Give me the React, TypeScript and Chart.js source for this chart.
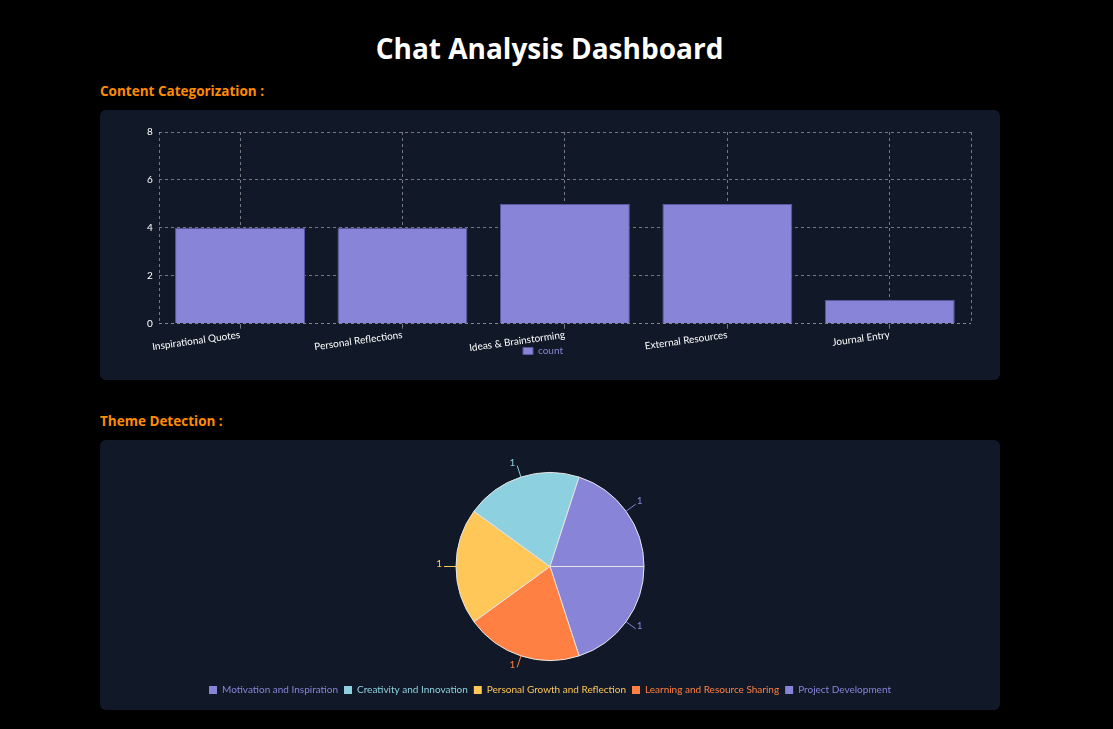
import React, { useEffect, useRef } from "react";
import { Chart, registerables } from "chart.js";

Chart.register(...registerables);

const categoryLabels = [
  "Inspirational Quotes",
  "Personal Reflections",
  "Ideas & Brainstorming",
  "External Resources",
  "Journal Entry",
];
const categoryCounts = [4, 4, 5, 5, 1];

const themeLabels = [
  "Motivation and Inspiration",
  "Creativity and Innovation",
  "Personal Growth and Reflection",
  "Learning and Resource Sharing",
  "Project Development",
];
const themeCounts = [1, 1, 1, 1, 1];
const themeColors = ["#8884d8", "#8dd1e1", "#ffc658", "#ff8042", "#8884d8"];

const FONT = "'Open Sans', 'Noto Sans', sans-serif";
const CHART_FONT = "Lato, 'Open Sans', sans-serif";
const CARD_BG = "#111827";
const GRID = "rgba(200,200,200,0.55)";
const X_SHRINK = 12;

const chartAreaBorder = {
  id: "chartAreaBorder",
  afterLayout(chart: any) {
    const x = chart.scales.x;
    if (x) {
      x.bottom += X_SHRINK;
      x.height += X_SHRINK;
    }
    if (chart.legend) {
      chart.legend.left -= 13;
      chart.legend.right -= 13;
    }
  },
  afterDraw(chart: any) {
    const { ctx, chartArea } = chart;
    ctx.save();
    ctx.strokeStyle = GRID;
    ctx.lineWidth = 1;
    ctx.setLineDash([3, 3]);
    ctx.beginPath();
    const l = Math.round(chartArea.left) + 0.5;
    const r = Math.round(chartArea.right) + 0.5;
    ctx.moveTo(l, chartArea.top);
    ctx.lineTo(l, chartArea.bottom);
    ctx.moveTo(r, chartArea.top);
    ctx.lineTo(r, chartArea.bottom);
    ctx.stroke();
    ctx.restore();
  },
};

const pieLabels = {
  id: "pieLabels",
  afterDatasetsDraw(chart: any) {
    const { ctx } = chart;
    const meta = chart.getDatasetMeta(0);
    const ds = chart.data.datasets[0];
    ctx.save();
    ctx.font = `10px ${CHART_FONT}`;
    ctx.textBaseline = "middle";
    meta.data.forEach((arc: any, i: number) => {
      const { x, y, startAngle, endAngle, outerRadius } = arc.getProps(
        ["x", "y", "startAngle", "endAngle", "outerRadius"],
        true
      );
      const mid = (startAngle + endAngle) / 2;
      const c = Math.cos(mid);
      const s = Math.sin(mid);
      const x1 = x + outerRadius * c;
      const y1 = y + outerRadius * s;
      const x2 = x + (outerRadius + 12) * c;
      const y2 = y + (outerRadius + 12) * s;
      const color = ds.backgroundColor[i];
      ctx.strokeStyle = color;
      ctx.lineWidth = 1;
      ctx.beginPath();
      ctx.moveTo(x1, y1);
      ctx.lineTo(x2, y2);
      ctx.stroke();
      ctx.fillStyle = color;
      ctx.textAlign = c >= 0 ? "left" : "right";
      ctx.fillText(String(ds.data[i]), x2 + (c >= 0 ? 1 : -2), y2 - 3);
    });
    ctx.restore();
  },
};

function BarChart() {
  const ref = useRef<HTMLCanvasElement>(null);
  useEffect(() => {
    if (!ref.current) return;
    const chart = new Chart(ref.current, {
      type: "bar",
      data: {
        labels: categoryLabels,
        datasets: [
          {
            label: "count",
            data: categoryCounts,
            backgroundColor: "#8884d8",
            borderColor: "#5a56a0",
            borderWidth: 1,
            barPercentage: 1,
            categoryPercentage: 0.8,
          },
        ],
      },
      options: {
        animation: false,
        responsive: false,
        maintainAspectRatio: false,
        layout: { padding: { left: 41, right: 29, top: 22, bottom: 14 } },
        plugins: {
          legend: {
            position: "bottom",
            labels: {
              color: "#8884d8",
              boxWidth: 10,
              boxHeight: 7,
              padding: 4,
              font: { family: CHART_FONT, size: 10 },
            },
          },
          tooltip: { enabled: false },
        },
        scales: {
          x: {
            afterFit(scale: any) {
              scale.height -= X_SHRINK;
            },
            grid: {
              offset: false,
              color: GRID,
              tickLength: 5,
              tickColor: GRID,
            },
            border: { display: false, dash: [3, 3] },
            ticks: {
              color: "#ffffff",
              minRotation: 8,
              maxRotation: 8,
              padding: 0,
              font: { family: CHART_FONT, size: 10 },
            },
          },
          y: {
            min: 0,
            max: 8,
            ticks: {
              stepSize: 2,
              color: "#ffffff",
              padding: 6,
              font: { family: CHART_FONT, size: 10 },
            },
            grid: {
              color: (ctx: any) => (ctx.tick && ctx.tick.value === 0 ? "rgba(150,150,150,0.9)" : GRID),
              drawTicks: false,
            },
            border: { display: false, dash: [3, 3] },
          },
        },
      } as any,
      plugins: [chartAreaBorder],
    });
    return () => chart.destroy();
  }, []);
  return <canvas ref={ref} width={900} height={270} style={{ display: "block" }} />;
}

function PieChart() {
  const ref = useRef<HTMLCanvasElement>(null);
  useEffect(() => {
    if (!ref.current) return;
    const order = [...themeLabels.keys()].reverse();
    const chart = new Chart(ref.current, {
      type: "pie",
      data: {
        labels: order.map((i) => themeLabels[i]),
        datasets: [
          {
            data: order.map((i) => themeCounts[i]),
            backgroundColor: order.map((i) => themeColors[i]),
            borderColor: "#e6e6e6",
            borderWidth: 1,
            radius: 94,
          } as any,
        ],
      },
      options: {
        animation: false,
        responsive: false,
        maintainAspectRatio: false,
        rotation: 90,
        layout: { padding: { top: 14, bottom: 5 } },
        plugins: {
          tooltip: { enabled: false },
          legend: {
            position: "bottom",
            reverse: true,
            labels: {
              boxWidth: 8,
              boxHeight: 8,
              padding: 6,
              font: { family: CHART_FONT, size: 10 },
              generateLabels(chart: any) {
                const ds = chart.data.datasets[0];
                return chart.data.labels.map((l: string, i: number) => ({
                  text: l,
                  fillStyle: ds.backgroundColor[i],
                  strokeStyle: ds.backgroundColor[i],
                  lineWidth: 0,
                  fontColor: ds.backgroundColor[i],
                  index: i,
                  hidden: false,
                }));
              },
            },
          },
        },
      } as any,
      plugins: [pieLabels],
    });
    return () => chart.destroy();
  }, []);
  return <canvas ref={ref} width={900} height={270} style={{ display: "block" }} />;
}

export default function App() {
  useEffect(() => {
    document.body.style.background = "#000";
  }, []);
  const heading: React.CSSProperties = {
    position: "absolute",
    left: 100,
    margin: 0,
    color: "#ff8c00",
    fontFamily: FONT,
    fontWeight: 700,
    fontSize: 13.5,
    lineHeight: "20px",
  };
  const card: React.CSSProperties = {
    position: "absolute",
    left: 100,
    width: 900,
    height: 270,
    background: CARD_BG,
    borderRadius: 6,
    overflow: "hidden",
  };
  return (
    <div style={{ background: "#000", width: 1113, height: 729, position: "absolute", left: 0, top: 0 }}>
      <h1
        style={{
          position: "absolute",
          left: 0,
          width: 1099,
          top: 28,
          margin: 0,
          textAlign: "center",
          color: "#fff",
          fontFamily: FONT,
          fontWeight: 700,
          fontSize: 28,
          lineHeight: "40px",
        }}
      >
        Chat Analysis Dashboard
      </h1>
      <div style={{ ...heading, top: 81 }}>Content Categorization :</div>
      <div style={{ ...card, top: 110 }}>
        <BarChart />
      </div>
      <div style={{ ...heading, top: 411 }}>Theme Detection :</div>
      <div style={{ ...card, top: 440 }}>
        <PieChart />
      </div>
    </div>
  );
}
